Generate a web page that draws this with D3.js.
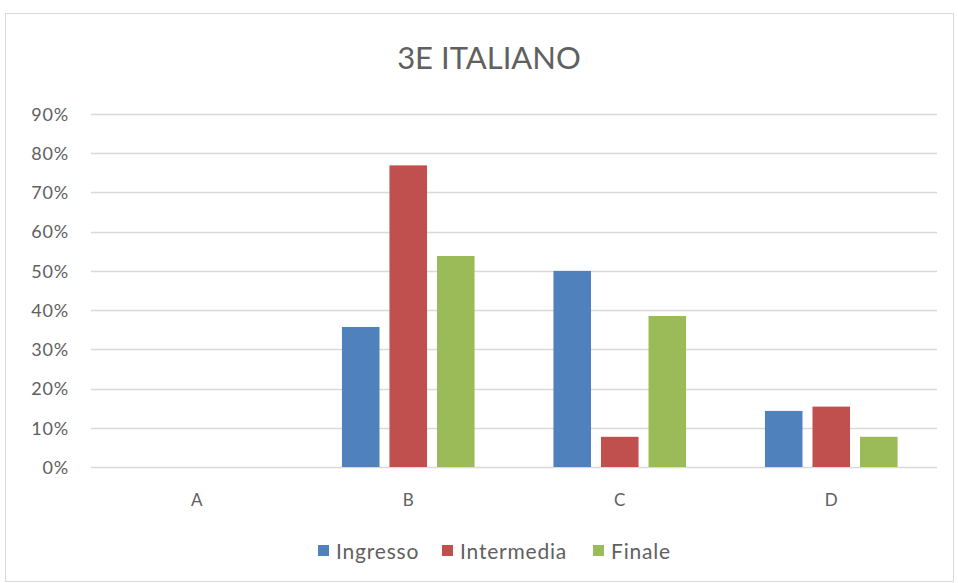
<!DOCTYPE html>
<html>
<head>
<meta charset="utf-8">
<script src="https://cdn.jsdelivr.net/npm/d3@7"></script>
<style>
  html, body { margin: 0; padding: 0; background: #fff; }
  svg { display: block; font-family: Lato, "Open Sans", sans-serif; }
</style>
</head>
<body>
<svg id="chart" width="958" height="583"></svg>
<script>
const title = "3E ITALIANO";
const categories = ["A", "B", "C", "D"];
const seriesNames = ["Ingresso", "Intermedia", "Finale"];
const ingresso = [0, 0.357, 0.5, 0.143];
const intermedia = [0, 0.769, 0.077, 0.154];
const finale = [0, 0.538, 0.385, 0.077];
const yTicks = [0, 0.1, 0.2, 0.3, 0.4, 0.5, 0.6, 0.7, 0.8, 0.9];
const colors = ["#4F81BD", "#C0504D", "#9BBB59"];

const seriesValues = [ingresso, intermedia, finale];
const svg = d3.select("#chart");

// outer frame
svg.append("rect").attr("x", 5.5).attr("y", 13.5).attr("width", 948).attr("height", 568)
  .attr("fill", "#fff").attr("stroke", "#d9d9d9").attr("stroke-width", 1);

const plot = { left: 91, right: 937, top: 114, bottom: 467 };

const x0 = d3.scaleBand().domain(categories).range([plot.left, plot.right]).padding(0);
const x1 = d3.scaleBand().domain(seriesNames).range([0, x0.bandwidth()])
  .paddingInner(0.21).paddingOuter(0.83);
const y = d3.scaleLinear().domain([0, 0.9]).range([plot.bottom, plot.top]);

// gridlines
svg.append("g").selectAll("line").data(yTicks).join("line")
  .attr("x1", plot.left).attr("x2", plot.right)
  .attr("y1", d => Math.round(y(d)) + 0.5).attr("y2", d => Math.round(y(d)) + 0.5)
  .attr("stroke", "#d9d9d9").attr("stroke-width", 1.3);

const textColor = "#606060";

// y axis labels
const yAxis = d3.axisLeft(y).tickValues(yTicks).tickFormat(d3.format(".0%")).tickSize(0).tickPadding(0);
const gy = svg.append("g").attr("transform", `translate(${plot.left - 22},0)`).call(yAxis);
gy.select(".domain").remove();
gy.selectAll("text").attr("fill", textColor).style("font-size", "18px")
  .style("letter-spacing", "0.8px")
  .style("font-family", "Lato, 'Open Sans', sans-serif").attr("dy", "0.35em");

// x axis labels
const xAxis = d3.axisBottom(x0).tickSize(0).tickPadding(0);
const gx = svg.append("g").attr("transform", `translate(0,${plot.bottom + 27})`).call(xAxis);
gx.select(".domain").remove();
gx.selectAll("text").attr("fill", textColor).style("font-size", "17px")
  .style("font-family", "Lato, 'Open Sans', sans-serif");

// bars
const rows = [];
categories.forEach((c, i) => {
  seriesNames.forEach((s, j) => rows.push({ cat: c, series: s, value: seriesValues[j][i], color: colors[j] }));
});
svg.append("g").selectAll("rect").data(rows.filter(d => d.value > 0)).join("rect")
  .attr("x", d => x0(d.cat) + x1(d.series))
  .attr("width", x1.bandwidth())
  .attr("y", d => y(d.value))
  .attr("height", d => y(0) - y(d.value))
  .attr("fill", d => d.color);

// title
svg.append("text").attr("x", 489).attr("y", 69).attr("text-anchor", "middle")
  .attr("fill", textColor).style("font-size", "31px").text(title);

// legend
const legendX = [318, 442, 593];
const lg = svg.append("g");
seriesNames.forEach((s, j) => {
  lg.append("rect").attr("x", legendX[j]).attr("y", 545).attr("width", 11).attr("height", 11).attr("fill", colors[j]);
  lg.append("text").attr("x", legendX[j] + 18).attr("y", 559).attr("fill", textColor)
    .style("font-size", "21px").style("letter-spacing", "0.8px").text(s);
});
</script>
</body>
</html>
